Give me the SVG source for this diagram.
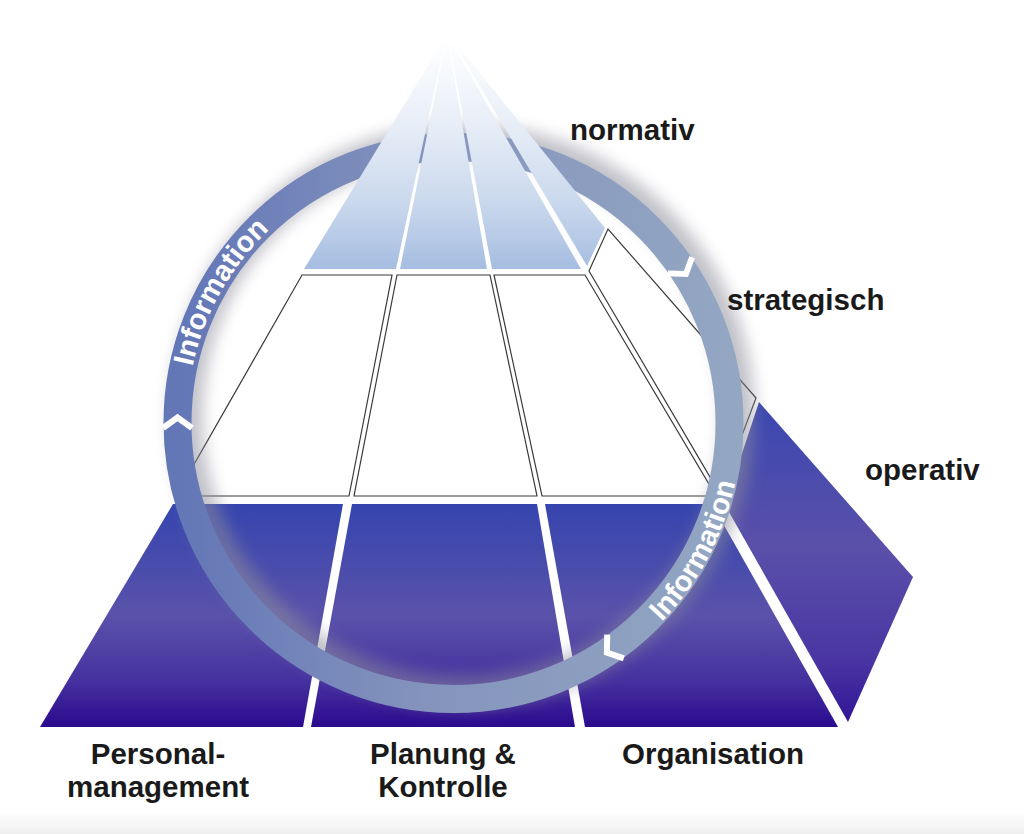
<svg xmlns="http://www.w3.org/2000/svg" width="1024" height="834" viewBox="0 0 1024 834">
  <defs>
    <linearGradient id="gNorm" gradientUnits="userSpaceOnUse" x1="0" y1="40" x2="0" y2="269">
      <stop offset="0" stop-color="#ffffff"/>
      <stop offset="0.35" stop-color="#e9eff8"/>
      <stop offset="0.7" stop-color="#cbd9ed"/>
      <stop offset="1" stop-color="#a6bde1"/>
    </linearGradient>
    <linearGradient id="gOp" gradientUnits="userSpaceOnUse" x1="0" y1="504" x2="0" y2="727">
      <stop offset="0" stop-color="#3545ae"/>
      <stop offset="0.5" stop-color="#5a52aa"/>
      <stop offset="0.8" stop-color="#45309f"/>
      <stop offset="1" stop-color="#2b0a8e"/>
    </linearGradient>
    <linearGradient id="gOpSide" gradientUnits="userSpaceOnUse" x1="0" y1="402" x2="0" y2="722">
      <stop offset="0" stop-color="#3a47b0"/>
      <stop offset="0.45" stop-color="#5a50a9"/>
      <stop offset="0.8" stop-color="#4a36a3"/>
      <stop offset="1" stop-color="#321496"/>
    </linearGradient>
    <linearGradient id="gRing" gradientUnits="userSpaceOnUse" x1="178" y1="0" x2="730" y2="0">
      <stop offset="0" stop-color="#6376b6"/>
      <stop offset="0.45" stop-color="#8494bd"/>
      <stop offset="1" stop-color="#93a6c2"/>
    </linearGradient>
    <linearGradient id="gBottom" x1="0" y1="0" x2="0" y2="1">
      <stop offset="0" stop-color="#ffffff"/>
      <stop offset="1" stop-color="#efefef"/>
    </linearGradient>
    <filter id="blur" x="-20%" y="-20%" width="140%" height="140%">
      <feGaussianBlur stdDeviation="8"/>
    </filter>
    <path id="pathLeft" d="M192.5,366.6 A267,267 0 0 1 407.1,160.1"/>
    <path id="pathRight" d="M661.7,622.0 A288,288 0 0 0 731.7,348.5"/>
  </defs>
  <style>
    .strat { fill: #ffffff; stroke: #3a3a3a; stroke-width: 1.2; stroke-linejoin: miter; }
    .op { fill: url(#gOp); }
    .norm { fill: url(#gNorm); }
    .label { font-family: "Liberation Sans", Arial, Helvetica, sans-serif; font-weight: bold; font-size: 29.5px; fill: #1a1a1a; }
    .ringtext { font-family: "Liberation Sans", Arial, Helvetica, sans-serif; font-weight: bold; font-size: 29px; fill: #ffffff; }
    .chev { fill: none; stroke: #ffffff; stroke-width: 6; stroke-linejoin: miter; stroke-linecap: butt; }
  </style>

  <rect x="0" y="0" width="1024" height="834" fill="#ffffff"/>
  <rect x="0" y="812" width="1024" height="22" fill="url(#gBottom)"/>

  <!-- strategic layer -->
  <g id="strategic">
    <g id="strat-1"><polygon class="strat" points="302,275 392,275 349,496 176,496"/></g>
    <g id="strat-2"><polygon class="strat" points="397,275 490,275 537,496 354,496"/></g>
    <g id="strat-3"><polygon class="strat" points="494,275 585,275 716,496 542,496"/></g>
    <g id="strat-4"><polygon class="strat" points="589,271 608,229 756,398 720,494"/></g>
  </g>

  <!-- operative layer -->
  <g id="operative">
    <g id="op-1"><polygon class="op" points="173,504 343,504 303,727 40,727"/></g>
    <g id="op-2"><polygon class="op" points="352,504 537,504 575,727 311,727"/></g>
    <g id="op-3"><polygon class="op" points="545,504 712,504 838,727 585,727"/></g>
    <g id="op-4"><polygon fill="url(#gOpSide)" points="725,505 759,402 913,577 848,722"/></g>
  </g>

  <!-- information cycle -->
  <g id="connectors">
    <circle cx="462.5" cy="416" r="276" fill="none" stroke="#8d8d9c" stroke-width="32" opacity="0.55" filter="url(#blur)"/>
    <circle cx="453.5" cy="423" r="276" fill="none" stroke="url(#gRing)" stroke-width="28"/>
    <path class="chev" d="M715,418 L729.5,428.5 L744,418" transform="rotate(180 453.5 423)"/>
    <path class="chev" d="M715,418 L729.5,428.5 L744,418" transform="rotate(-33.8 453.5 423)"/>
    <path class="chev" d="M715,418 L729.5,428.5 L744,418" transform="rotate(55.1 453.5 423)"/>
    <text class="ringtext"><textPath href="#pathLeft">Information</textPath></text>
    <text class="ringtext"><textPath href="#pathRight">Information</textPath></text>
  </g>

  <!-- normative layer -->
  <g id="normative">
    <g id="norm-1"><polygon class="norm" points="446,36 304,269 396,269"/></g>
    <g id="norm-2"><polygon class="norm" points="447,36 400,269 487,269"/></g>
    <g id="norm-3"><polygon class="norm" points="448,36 492,269 581,269"/></g>
    <g id="norm-4"><polygon class="norm" points="450,36 587,266 605,228"/></g>
  </g>

  <!-- labels -->
  <g id="label-normativ"><text class="label" x="570" y="140">normativ</text></g>
  <g id="label-strategisch"><text class="label" x="727" y="310">strategisch</text></g>
  <g id="label-operativ"><text class="label" x="865" y="480">operativ</text></g>
  <g id="label-personal">
    <text class="label" text-anchor="middle" x="158" y="764">Personal-</text>
    <text class="label" text-anchor="middle" x="158" y="797">management</text>
  </g>
  <g id="label-planung">
    <text class="label" text-anchor="middle" x="443" y="764">Planung &amp;</text>
    <text class="label" text-anchor="middle" x="443" y="797">Kontrolle</text>
  </g>
  <g id="label-organisation"><text class="label" text-anchor="middle" x="713" y="764">Organisation</text></g>
</svg>
